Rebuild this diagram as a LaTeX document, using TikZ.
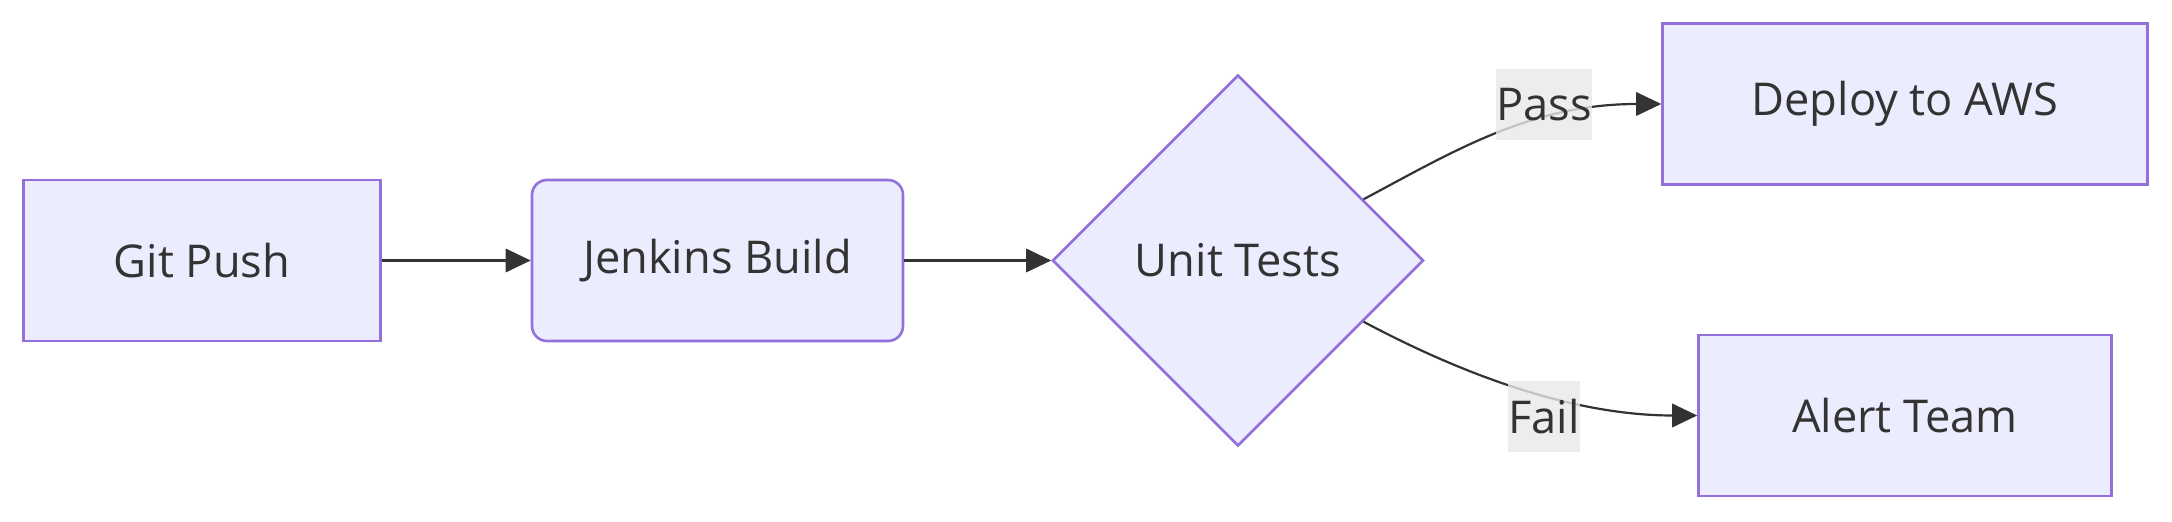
\documentclass[tikz,border=0pt]{standalone}
\usepackage{fontspec}
\setmainfont{Open Sans}
\usetikzlibrary{arrows.meta, shapes.geometric}

\definecolor{nodefill}{HTML}{ECECFF}
\definecolor{nodeline}{HTML}{9370DB}
\definecolor{ink}{HTML}{333333}
\definecolor{tagfill}{HTML}{E8E8E8}

\begin{document}
\begin{tikzpicture}[
    x=0.5pt, y=-0.5pt,
    every node/.style={font=\fontsize{22.6}{27}\selectfont, text=ink},
    box/.style={draw=nodeline, fill=nodefill, line width=1.3pt, minimum height=80.5pt, inner sep=0pt},
    roundbox/.style={box, rounded corners=7.5pt},
    decision/.style={diamond, aspect=1, draw=nodeline, fill=nodefill, line width=1.3pt, minimum size=185.5pt, inner sep=0pt},
    edgetag/.style={fill=tagfill, fill opacity=0.8, text opacity=1, inner xsep=0pt, inner ysep=0pt, minimum height=35.5pt},
    flow/.style={draw=ink, line width=1.1pt, -{Triangle[length=12.5pt, width=11.7pt]}},
]
\useasboundingbox (0,0) rectangle (2172,522);

% pipeline stages
\node[box, minimum width=178.5pt] (git) at (202,260.5) {Git Push};
\node[roundbox, minimum width=185.5pt] (jenkins) at (717.5,260.5) {Jenkins Build};
\node[decision] (tests) at (1238,260.5) {Unit Tests};
\node[box, minimum width=242.5pt] (deploy) at (1905,104) {Deploy to AWS};
\node[box, minimum width=206.5pt] (alert) at (1905,415.5) {Alert Team};

\draw[flow] (git) -- (jenkins);
\draw[flow] (jenkins) -- (tests);
\draw[flow] (tests.26) .. controls +(90,-48) and +(-130,0) .. (deploy.west);
\draw[flow] (tests.-26) .. controls +(90,48) and +(-130,0) .. (alert.west);

% branch labels
\node[edgetag] (pass) at (1544,104.5) {Pass};
\node[edgetag] (fail) at (1544,416.5) {Fail};

\end{tikzpicture}
\end{document}
